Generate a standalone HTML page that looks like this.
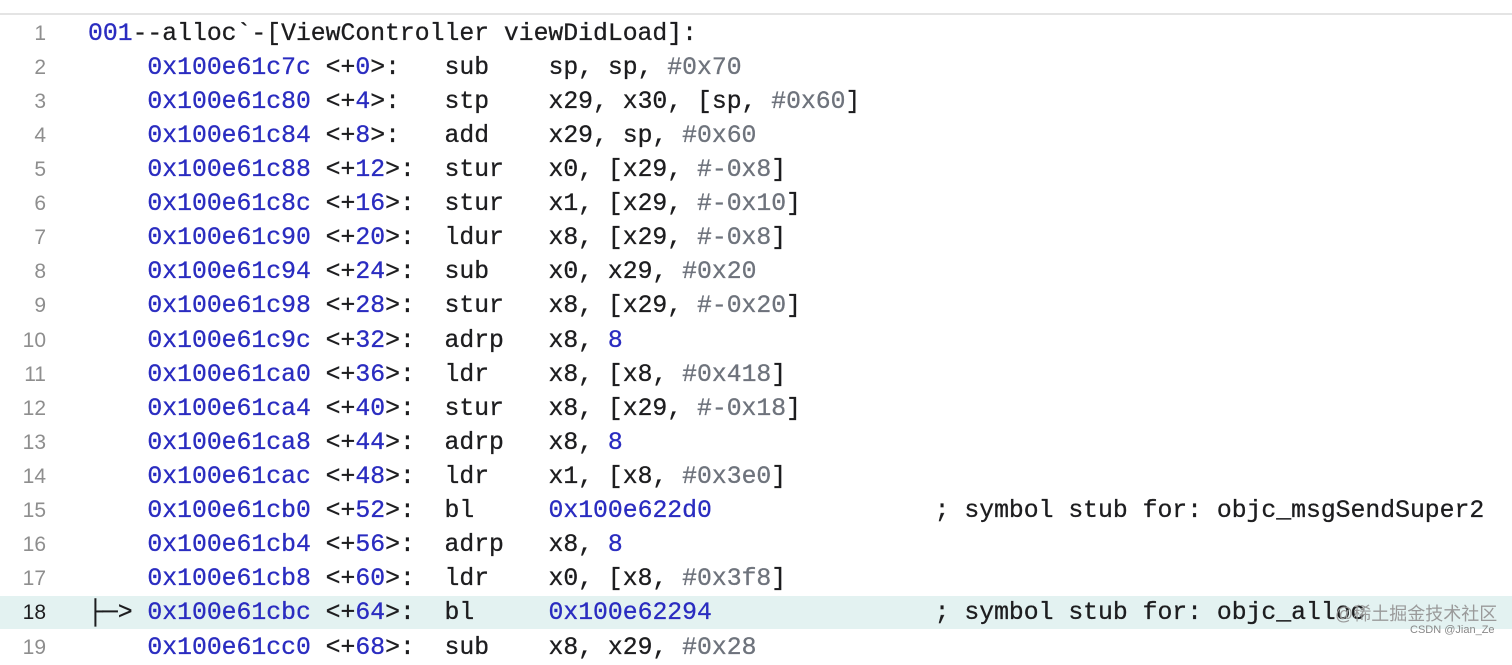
<!DOCTYPE html>
<html><head><meta charset="utf-8"><style>
body{margin:0;width:1512px;height:645px;overflow:hidden;background:#fff;font-family:"Liberation Mono",monospace;}
.top{position:absolute;left:0;top:0;width:1512px;height:13px;border-bottom:2px solid #e4e4e4;}
.hl{position:absolute;left:0;top:596px;width:1512px;height:33px;background:#e3f2f1;}
.l{position:absolute;left:0;height:34px;line-height:34px;font-size:24.75px;color:#1d1d1f;white-space:pre;-webkit-text-stroke:0.3px currentColor;}
.n{position:absolute;left:0;width:46px;text-align:right;font-family:"Liberation Sans",sans-serif;font-size:21px;color:#8e8e8e;-webkit-text-stroke:0;}
.c{position:absolute;left:88px;}
.b{color:#2a2cc0}.g{color:#6e737c}
.wm{position:absolute;left:1335px;top:600px;font-family:"Liberation Sans","Noto Sans CJK SC",sans-serif;font-size:18px;color:#9a9a9a;}
.wm2{position:absolute;left:1410px;top:624px;font-family:"Liberation Sans",sans-serif;font-size:11px;color:#888;}
</style></head><body>
<div class="top"></div>
<div class="hl"></div>
<div class="l" style="top:17px"><span class="n">1</span><span class="c"><span class="b">001</span>--alloc`-[ViewController viewDidLoad]:</span></div>
<div class="l" style="top:51px"><span class="n">2</span><span class="c">    <span class="b">0x100e61c7c</span> &lt;+<span class="b">0</span>&gt;:   sub    sp, sp, <span class="g">#0x70</span></span></div>
<div class="l" style="top:85px"><span class="n">3</span><span class="c">    <span class="b">0x100e61c80</span> &lt;+<span class="b">4</span>&gt;:   stp    x29, x30, [sp, <span class="g">#0x60</span>]</span></div>
<div class="l" style="top:119px"><span class="n">4</span><span class="c">    <span class="b">0x100e61c84</span> &lt;+<span class="b">8</span>&gt;:   add    x29, sp, <span class="g">#0x60</span></span></div>
<div class="l" style="top:153px"><span class="n">5</span><span class="c">    <span class="b">0x100e61c88</span> &lt;+<span class="b">12</span>&gt;:  stur   x0, [x29, <span class="g">#-0x8</span>]</span></div>
<div class="l" style="top:187px"><span class="n">6</span><span class="c">    <span class="b">0x100e61c8c</span> &lt;+<span class="b">16</span>&gt;:  stur   x1, [x29, <span class="g">#-0x10</span>]</span></div>
<div class="l" style="top:221px"><span class="n">7</span><span class="c">    <span class="b">0x100e61c90</span> &lt;+<span class="b">20</span>&gt;:  ldur   x8, [x29, <span class="g">#-0x8</span>]</span></div>
<div class="l" style="top:255px"><span class="n">8</span><span class="c">    <span class="b">0x100e61c94</span> &lt;+<span class="b">24</span>&gt;:  sub    x0, x29, <span class="g">#0x20</span></span></div>
<div class="l" style="top:289px"><span class="n">9</span><span class="c">    <span class="b">0x100e61c98</span> &lt;+<span class="b">28</span>&gt;:  stur   x8, [x29, <span class="g">#-0x20</span>]</span></div>
<div class="l" style="top:324px"><span class="n">10</span><span class="c">    <span class="b">0x100e61c9c</span> &lt;+<span class="b">32</span>&gt;:  adrp   x8, <span class="b">8</span></span></div>
<div class="l" style="top:358px"><span class="n">11</span><span class="c">    <span class="b">0x100e61ca0</span> &lt;+<span class="b">36</span>&gt;:  ldr    x8, [x8, <span class="g">#0x418</span>]</span></div>
<div class="l" style="top:392px"><span class="n">12</span><span class="c">    <span class="b">0x100e61ca4</span> &lt;+<span class="b">40</span>&gt;:  stur   x8, [x29, <span class="g">#-0x18</span>]</span></div>
<div class="l" style="top:426px"><span class="n">13</span><span class="c">    <span class="b">0x100e61ca8</span> &lt;+<span class="b">44</span>&gt;:  adrp   x8, <span class="b">8</span></span></div>
<div class="l" style="top:460px"><span class="n">14</span><span class="c">    <span class="b">0x100e61cac</span> &lt;+<span class="b">48</span>&gt;:  ldr    x1, [x8, <span class="g">#0x3e0</span>]</span></div>
<div class="l" style="top:494px"><span class="n">15</span><span class="c">    <span class="b">0x100e61cb0</span> &lt;+<span class="b">52</span>&gt;:  bl     <span class="b">0x100e622d0</span>               ; symbol stub for: objc_msgSendSuper2</span></div>
<div class="l" style="top:528px"><span class="n">16</span><span class="c">    <span class="b">0x100e61cb4</span> &lt;+<span class="b">56</span>&gt;:  adrp   x8, <span class="b">8</span></span></div>
<div class="l" style="top:562px"><span class="n">17</span><span class="c">    <span class="b">0x100e61cb8</span> &lt;+<span class="b">60</span>&gt;:  ldr    x0, [x8, <span class="g">#0x3f8</span>]</span></div>
<div class="l" style="top:596px"><span class="n" style="color:#1d1d1f">18</span><span class="c">├─&gt; <span class="b">0x100e61cbc</span> &lt;+<span class="b">64</span>&gt;:  bl     <span class="b">0x100e62294</span>               ; symbol stub for: objc_alloc</span></div>
<div class="l" style="top:631px"><span class="n">19</span><span class="c">    <span class="b">0x100e61cc0</span> &lt;+<span class="b">68</span>&gt;:  sub    x8, x29, <span class="g">#0x28</span></span></div>
<div class="wm">@稀土掘金技术社区</div>
<div class="wm2">CSDN @Jian_Ze</div>
</body></html>
